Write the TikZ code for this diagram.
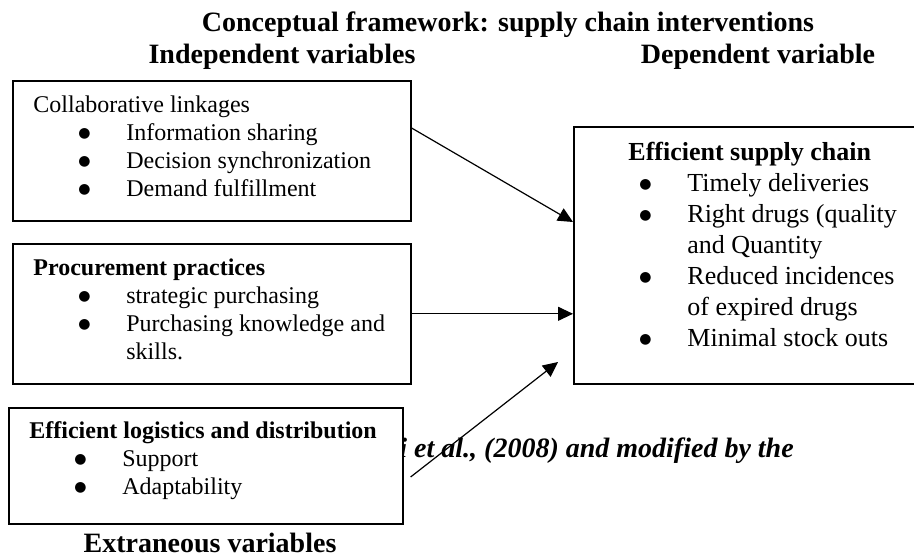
\documentclass[tikz,border=0pt]{standalone}
\usepackage{fontspec}
\setmainfont{Liberation Serif}
\newfontfamily\symfont{DejaVu Sans}
\usetikzlibrary{arrows.meta,calc,positioning}
\newcommand{\bigbul}{\raisebox{1.2pt}{\symfont\fontsize{7}{8}\selectfont ●}}
\newcommand{\itm}[1]{\hspace*{22.5pt}\makebox[24pt][l]{\bigbul}#1}
\newcommand{\cnt}[1]{\hspace*{46.5pt}#1}
\newcommand{\ritm}[1]{\hspace*{5.5pt}\makebox[24pt][l]{\bigbul}#1}
\newcommand{\rcnt}[1]{\hspace*{29.5pt}#1}

\begin{document}
\begin{tikzpicture}[x=0.5pt,y=-0.5pt,>={Triangle[length=7.5pt,width=7pt]},
    box/.style={draw,line width=0.8pt,inner sep=0pt,anchor=north west},
    head/.style={font=\fontsize{14}{16}\selectfont\bfseries,anchor=base,inner sep=0pt},
    lst/.style={font=\fontsize{12}{14}\selectfont,anchor=base west,inner sep=0pt},
    link/.style={->,line width=0.6pt}]
    \useasboundingbox (0,0) rectangle (914,557);
    \node[head] (title) at (508,32) {Conceptual framework: supply chain interventions};
    \node[head] (indep) at (282,63) {Independent variables};
    \node[head] (dep) at (758,63) {Dependent variable};
    \node[head] (extra) at (210,552) {Extraneous variables};
    \node[box,minimum width=199pt,minimum height=70pt] (collab) at (12,80) {};
    \node[box,minimum width=199pt,minimum height=70pt] (proc) at (12,243) {};
    \node[box,minimum width=183.5pt,minimum height=128.5pt] (chain) at (573,126) {};
    % source line, partly under the logistics box
    \node[font=\fontsize{14}{16}\selectfont\bfseries\itshape,anchor=base west,inner sep=0pt] (src) at (399,457) {i et al., (2008) and modified by the};
    \node[box,fill=white,minimum width=197pt,minimum height=58pt] (logis) at (8,407) {};
    \node[lst] (collabtxt) at (33,112) {\begin{tabular}[t]{@{}l@{}}Collaborative linkages\\ \itm{Information sharing}\\ \itm{Decision synchronization}\\ \itm{Demand fulfillment}\end{tabular}};
    \node[lst] (proctxt) at (33,275) {\begin{tabular}[t]{@{}l@{}}\textbf{Procurement practices}\\ \itm{strategic purchasing}\\ \itm{Purchasing knowledge and}\\ \cnt{skills.}\end{tabular}};
    \node[lst] (logistxt) at (29,438) {\begin{tabular}[t]{@{}l@{}}\textbf{Efficient logistics and distribution}\\ \itm{Support}\\ \itm{Adaptability}\end{tabular}};
    \node[lst,font=\fontsize{13}{15.5}\selectfont] (chaintxt) at (628,160) {\begin{tabular}[t]{@{}l@{}}\textbf{Efficient supply chain}\\ \ritm{Timely deliveries}\\ \ritm{Right drugs (quality}\\ \rcnt{and Quantity}\\ \ritm{Reduced incidences}\\ \rcnt{of expired drugs}\\ \ritm{Minimal stock outs}\end{tabular}};
    \coordinate (tip) at (558,362);
    \draw[link] ([yshift=-24pt]collab.north east) -- ([yshift=-48pt]chain.north west);
    \draw[link] (proc.east) -- (proc.east -| chain.west);
    \draw[link] ([xshift=3.5pt,yshift=-35pt]logis.north east) -- (tip);
\end{tikzpicture}
\end{document}
